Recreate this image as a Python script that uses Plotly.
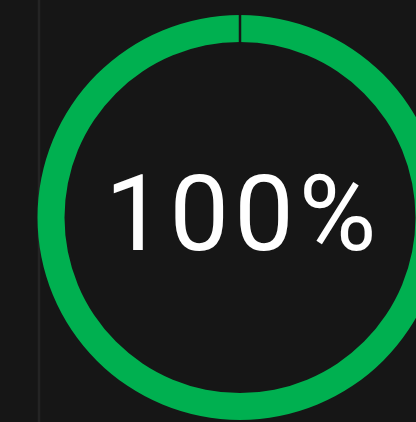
import plotly.graph_objects as go

# data
labels = ["完成", "剩余"]
values = [100, 0]
percent_text = "100%"

BG = "#161616"
GREEN = "#00b050"

W, H = 480, 422
cx, cy_top, R = 240, 217.5, 202.5
cy = H - cy_top

fig = go.Figure()
fig.add_trace(go.Pie(
    labels=labels,
    values=values,
    sort=False,
    direction="clockwise",
    rotation=0,
    hole=175.5 / 202.5,
    marker=dict(colors=[GREEN, GREEN], line=dict(color=BG, width=[0, 2.5])),
    textinfo="none",
    hoverinfo="skip",
    showlegend=False,
    domain=dict(x=[(cx - R) / W, (cx + R) / W], y=[(cy - R) / H, (cy + R) / H]),
))

fig.add_annotation(
    x=243 / W, y=(H - 214) / H, xref="paper", yref="paper",
    text='<span style="letter-spacing:5px">' + percent_text + '</span>',
    showarrow=False,
    font=dict(family="Roboto", size=106, color="#ffffff"),
    xanchor="center", yanchor="middle",
)

fig.add_shape(type="line", xref="paper", yref="paper",
              x0=39 / W, x1=39 / W, y0=0, y1=1,
              line=dict(color="#242424", width=2.5), layer="below")

fig.update_layout(
    width=W, height=H,
    margin=dict(l=0, r=0, t=0, b=0),
    paper_bgcolor=BG, plot_bgcolor=BG,
)

fig.write_html("out.html", post_script=
    "document.documentElement.style.overflow='hidden';document.body.style.overflow='hidden';document.body.style.margin='0';document.body.style.background='#161616';")
